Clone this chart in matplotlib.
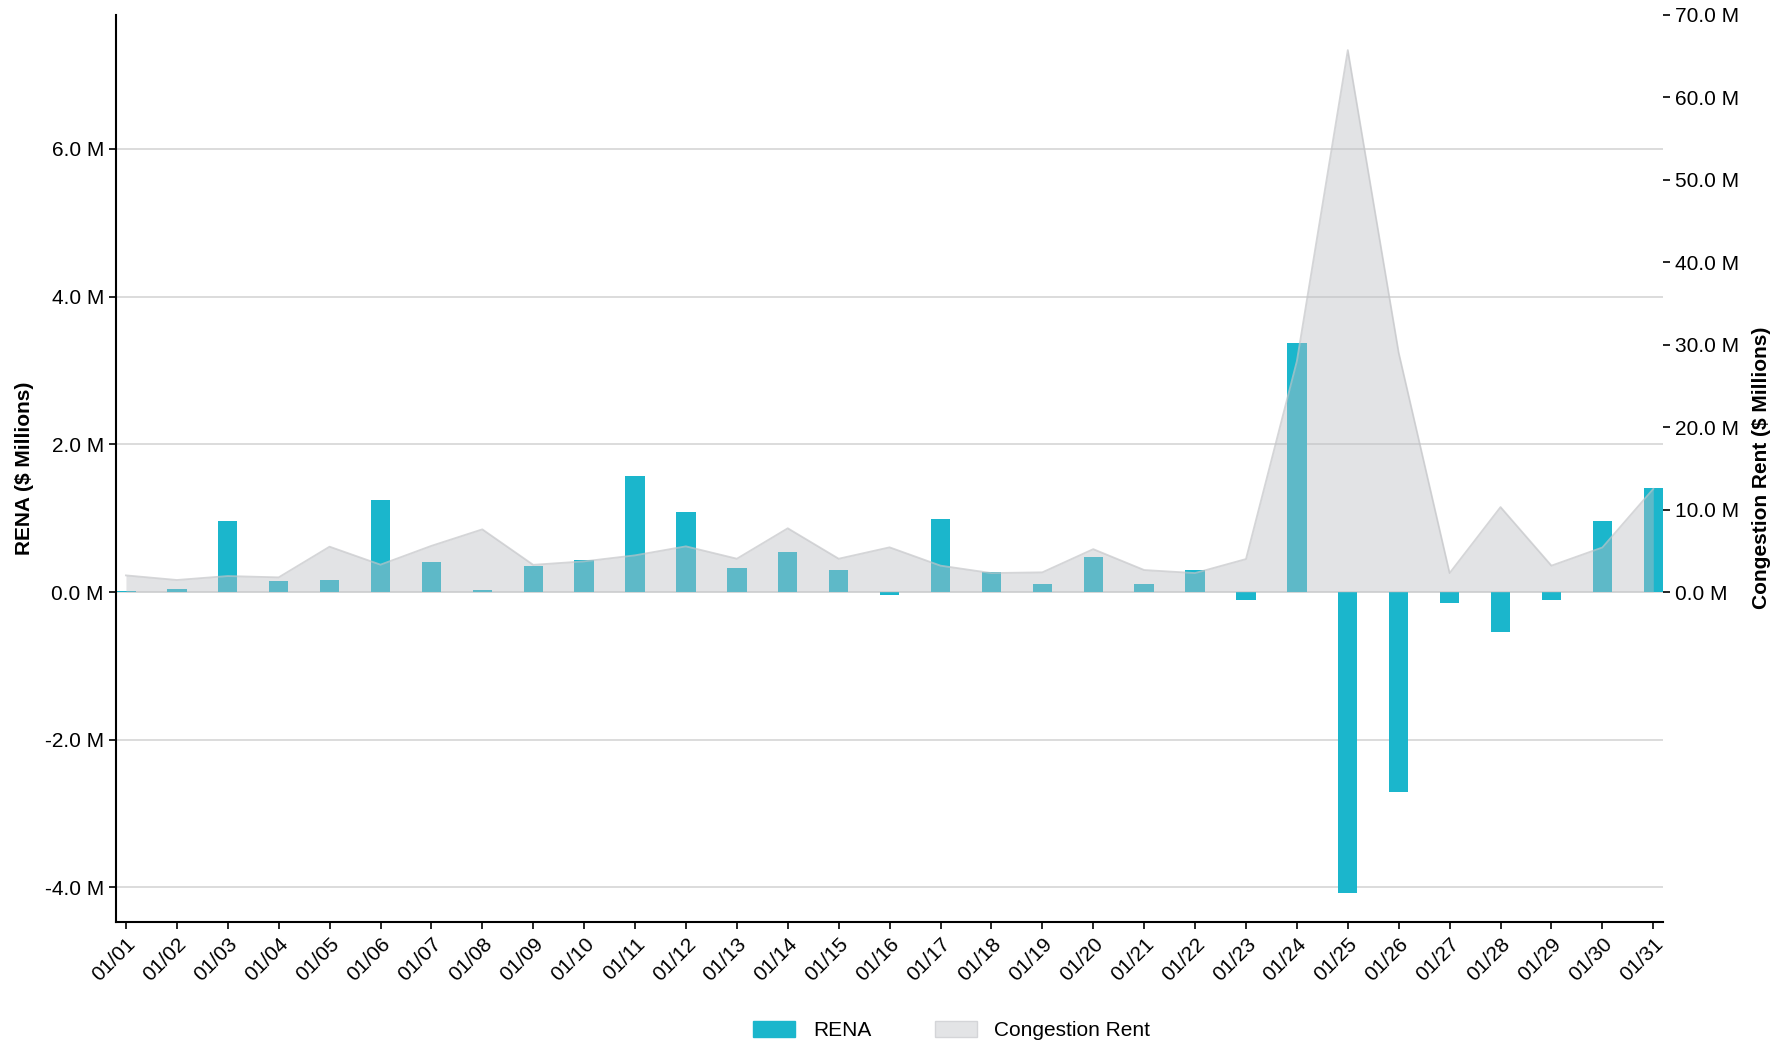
import matplotlib
matplotlib.use("Agg")
import matplotlib.pyplot as plt
from matplotlib.patches import Patch
from matplotlib.ticker import FuncFormatter
import numpy as np

plt.rcParams['font.family'] = ['Liberation Sans', 'DejaVu Sans']

dates = ["01/%02d" % d for d in range(1, 32)]
rena = [0.01, 0.04, 0.96, 0.145, 0.163, 1.246, 0.406, 0.027, 0.352, 0.433,
        1.576, 1.084, 0.325, 0.542, 0.298, -0.04, 0.99, 0.275, 0.108, 0.48,
        0.108, 0.30, -0.108, 3.37, -4.08, -2.71, -0.15, -0.54, -0.11, 0.966, 1.41]
congestion = [2.02, 1.46, 1.94, 1.78, 5.5, 3.32, 5.6, 7.6, 3.3, 3.72,
              4.45, 5.54, 4.04, 7.73, 4.04, 5.42, 3.2, 2.3, 2.39, 5.2,
              2.67, 2.3, 4.0, 28.0, 65.7, 29.0, 2.3, 10.3, 3.2, 5.4, 12.5]

bar_color = '#1bb6cc'
area_color = '#bcbec3'

fig = plt.figure(figsize=(17.81, 10.43), dpi=100)
ax = fig.add_axes([0.065, 0.116, 0.869, 0.870])
ax2 = ax.twinx()

x = np.arange(len(dates))
ax.bar(x, rena, width=0.38, color=bar_color, zorder=2)
ax.set_xlim(-0.2, len(dates) - 0.8)
ax.set_ylim(-4.469, 7.82)
ax.set_yticks([-4, -2, 0, 2, 4, 6])
ax.yaxis.set_major_formatter(FuncFormatter(lambda v, p: f"{v:.1f} M"))
ax.grid(axis='y', color='#d9d9d9', linewidth=1.3, zorder=0)
ax.set_axisbelow(True)
ax.set_xticks(x)
ax.set_xticklabels(dates, rotation=45, ha='right', rotation_mode='anchor')
ax.tick_params(axis='both', labelsize=15, length=5, width=1.2, colors='black')
ax.tick_params(axis='x', pad=4)
for s in ['top', 'right']:
    ax.spines[s].set_visible(False)
ax.spines['left'].set_linewidth(1.5)
ax.spines['bottom'].set_linewidth(1.5)
ax.set_ylabel("RENA ($ Millions)", fontsize=15, fontweight='bold', labelpad=10)
ax.yaxis.set_label_coords(-0.053, 0.5)

ax2.fill_between(x, congestion, 0, color=area_color, alpha=0.42, lw=0, zorder=3)
ax2.plot(x, congestion, color='#c4c5c8', alpha=0.7, lw=1.3, zorder=4)
ax2.set_ylim(-40, 70)
ax2.set_yticks(np.arange(0, 71, 10))
ax2.yaxis.set_major_formatter(FuncFormatter(lambda v, p: f"{v:.1f} M"))
ax2.tick_params(axis='y', labelsize=15, length=5, width=1.2)
for s in ['top', 'right', 'left', 'bottom']:
    ax2.spines[s].set_visible(False)
ax2.set_ylabel("Congestion Rent ($ Millions)", fontsize=15, fontweight='bold')
ax2.yaxis.set_label_coords(1.057, 0.5)

handles = [Patch(facecolor=bar_color, edgecolor=bar_color, label='RENA'),
           Patch(facecolor='#e3e4e6', edgecolor='#d4d5d8', label='Congestion Rent')]
fig.legend(handles=handles, loc='center', bbox_to_anchor=(0.5345, 0.012), ncol=2,
           frameon=False, fontsize=15, handlelength=2.0, handleheight=0.8,
           columnspacing=3.05, handletextpad=0.86)

fig.savefig("out.png", dpi=100)
